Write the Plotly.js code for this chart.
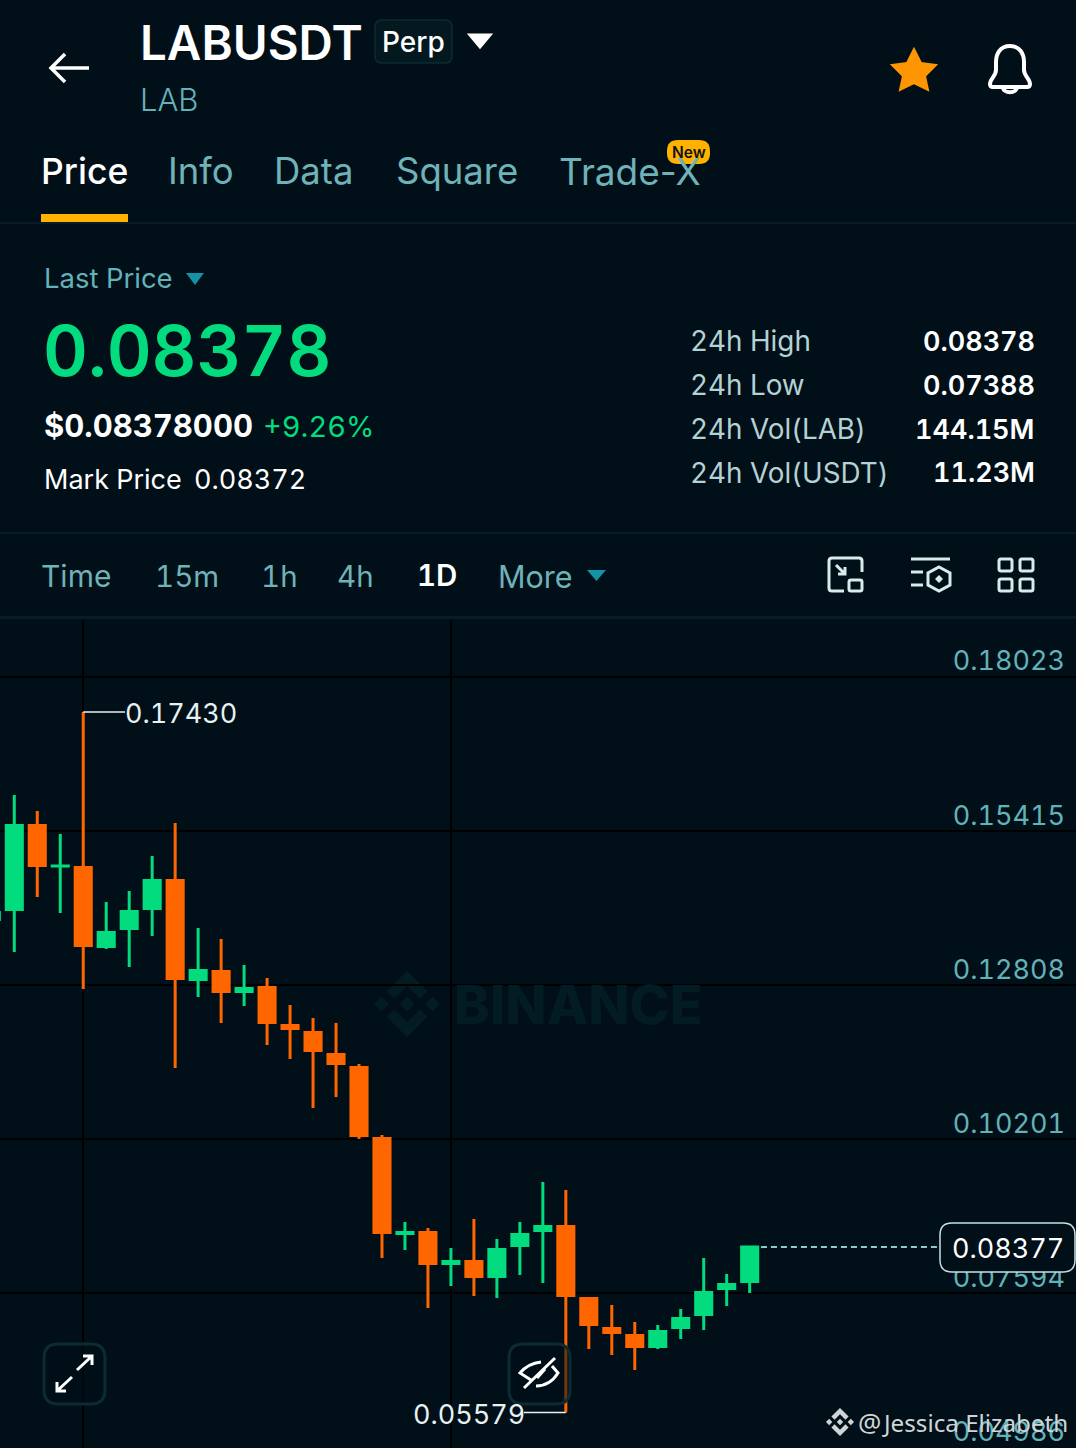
<!DOCTYPE html>
<html>
<head>
<meta charset="utf-8">
<script src="https://cdn.plot.ly/plotly-3.0.1.min.js"></script>
<style>
html,body{margin:0;padding:0;background:#000F18;overflow:hidden}
#chart{width:1076px;height:1448px}
svg text{font-variant-numeric:tabular-nums;font-feature-settings:"tnum" 1}
.ytick text{opacity:1 !important}
</style>
</head>
<body>
<div id="chart"></div>
<script>
// ---- data ----
var candleIndex = [-1,0,1,2,3,4,5,6,7,8,9,10,11,12,13,14,15,16,17,18,19,20,21,22,23,24,25,26,27,28,29,30,31,32];
var opens  = [.13920,.14089,.15511,.14825,.14800,.13463,.13767,.14106,.14580,.12904,.13041,.12701,.12770,.12127,.12008,.11636,.11416,.10215,.08607,.08624,.08099,.08134,.07879,.08404,.08658,.08726,.07508,.07000,.06882,.06695,.07016,.07236,.07676,.07795];
var highs  = [.14064,.16027,.15756,.15367,.17430,.14216,.14402,.14994,.15553,.13776,.13590,.13150,.12930,.12473,.12253,.12169,.11475,.10274,.08802,.08700,.08362,.08853,.08514,.08802,.09479,.09343,.07533,.07397,.07110,.07059,.07330,.08193,.07922,.08377];
var lows   = [.13895,.13370,.14301,.14030,.12744,.13421,.13116,.13641,.11407,.12609,.12169,.12456,.11797,.11560,.10731,.10917,.10206,.08193,.08328,.07347,.07719,.07550,.07516,.07905,.07770,.05579,.06653,.06551,.06298,.06653,.06822,.06974,.07380,.07600];
var closes = [.14039,.15511,.14833,.14826,.13480,.13700,.14056,.14580,.12921,.13058,.12701,.12753,.12177,.12075,.11703,.11483,.10265,.08624,.08624,.08099,.08134,.07879,.08337,.08591,.08726,.07558,.07067,.06932,.06695,.06949,.07169,.07609,.07745,.08377];
var priceTicks = [0.18023,0.15415,0.12808,0.10201,0.07594,0.04986];
var priceTickLabels = ['0.18023','0.15415','0.12808','0.10201','0.07594','0.04986'];
var timeGridIndex = [3,19];
var lastPrice = 0.08377;
var lastPriceLabel = '0.08377';
var peakIndex = 3, peakPrice = 0.17430, peakLabel = '0.17430';
var troughIndex = 24, troughPrice = 0.05579, troughLabel = '0.05579';
var statLabels = ['24h High','24h Low','24h Vol(LAB)','24h Vol(USDT)'];
var statValues = ['0.08378','0.07388','144.15M','11.23M'];
var tabs = ['Price','Info','Data','Square','Trade-X'];
var intervals = ['Time','15m','1h','4h','1D','More'];

// ---- page geometry and colours ----
var W = 1076, H = 1448, TOP = 620, PH = H - TOP;
var BG = '#000F18', GREEN = '#02DC7E', ORANGE = '#FF6600', TEAL = '#62B2B8', TAB = '#6FB2B8', AMBER = '#FFB300', WHITE = '#FFFFFF';
var FONT = 'Inter, "Noto Sans", sans-serif';
function px(x){ return x / W; }
function py(y){ return 1 - (y - TOP) / PH; }

function path(d, opt){
  var i = 0, s = d.replace(/-?\d+(\.\d+)?/g, function(n){
    var v = Number(n); var r = (i % 2 === 0) ? px(v) : py(v); i++; return r.toFixed(6);
  });
  return Object.assign({type:'path', xref:'paper', yref:'paper', path:s, layer:'above',
    line:{width:0, color:'rgba(0,0,0,0)'}, fillcolor:'rgba(0,0,0,0)'}, opt || {});
}
function stroke(d, color, w, extra){ return path(d, Object.assign({line:{color:color, width:w}}, extra||{})); }
function fill(d, color, extra){ return path(d, Object.assign({fillcolor:color}, extra||{})); }
function rrect(x0,y0,x1,y1,r){
  return 'M'+(x0+r)+','+y0+' L'+(x1-r)+','+y0+' Q'+x1+','+y0+' '+x1+','+(y0+r)+' L'+x1+','+(y1-r)+' Q'+x1+','+y1+' '+(x1-r)+','+y1+
    ' L'+(x0+r)+','+y1+' Q'+x0+','+y1+' '+x0+','+(y1-r)+' L'+x0+','+(y0+r)+' Q'+x0+','+y0+' '+(x0+r)+','+y0+' Z';
}
function logo(cx, cy, size, color, layer){
  var polys = [
    [38.73,53.2,63.32,28.62,87.92,53.22,102.22,38.91,63.32,0,24.42,38.9],
    [38.73,73.41,63.32,98,87.92,73.4,102.23,87.69,63.33,126.6,24.42,87.72],
    [0,63.31,14.3,49,28.61,63.31,14.3,77.61],
    [98,63.31,112.3,49,126.61,63.31,112.3,77.61],
    [63.32,48.79,77.83,63.3,63.32,77.83,48.81,63.3]
  ];
  var k = size / 126.61;
  return polys.map(function(p){
    var d = '';
    for (var i = 0; i < p.length; i += 2) {
      d += (i ? ' L' : 'M') + (cx + (p[i]-63.3)*k).toFixed(2) + ',' + (cy + (p[i+1]-63.3)*k).toFixed(2);
    }
    return fill(d + ' Z', color, {layer: layer});
  });
}
function text(t, x, y, size, color, opt){
  opt = opt || {};
  return {
    text:t, xref:'paper', yref:'paper', x:px(x), y:py(y), showarrow:false,
    xanchor:opt.anchor || 'left', yanchor:'middle', borderpad:0, borderwidth:0,
    font:{family:opt.family || FONT, size:size, color:color, weight:opt.weight || 400}
  };
}

var annotations = [
  text('LABUSDT', 140, 42, 47.5, WHITE, {weight:600}),
  text('Perp', 382, 42, 28, WHITE, {weight:500}),
  text('LAB', 140, 100, 31, TEAL, {weight:300}),
  text(tabs[0], 41, 171, 35.5, WHITE, {weight:500}),
  text(tabs[1], 168, 171, 36.5, TAB),
  text(tabs[2], 274, 171, 36.5, TAB),
  text(tabs[3], 396, 171, 36.5, TAB),
  text(tabs[4], 555, 171, 37, TAB),
  text('New', 688.5, 152, 15.5, '#111111', {anchor:'center', weight:600}),
  text('Last Price', 44, 278, 27.5, TEAL),
  text('0.08378', 43, 351, 69.5, GREEN, {weight:600}),
  text('$0.08378000', 44, 425, 31, WHITE, {weight:700}),
  text('+9.26%', 263, 426, 29, GREEN),
  text('Mark Price', 44, 480, 27, WHITE),
  text('0.08372', 194, 480, 27, WHITE),
  text(intervals[0], 41, 576, 30, TAB),
  text(intervals[1], 155, 576, 29.5, TAB),
  text(intervals[2], 261, 576, 29.5, TAB),
  text(intervals[3], 337, 576, 29.5, TAB),
  text(intervals[4], 417, 575, 29.5, WHITE, {weight:600}),
  text(intervals[5], 498, 576, 30.5, TAB),
  text('BINANCE', 454, 1004, 54, '#031C24', {weight:800}),
  text(lastPriceLabel, 1064, 1248, 27, WHITE, {anchor:'right'}),
  text(peakLabel, 125, 713, 27, '#E6F2F2'),
  text(troughLabel, 413, 1414, 27, '#E6F2F2'),
  text('@', 858, 1422, 26, '#CFD5D7', {family:'"Noto Sans", sans-serif'}),
  text('Jessica Elizabeth', 882, 1422, 24.2, '#CFD5D7', {family:'"Noto Sans", sans-serif'})
];
statLabels.forEach(function(t, i){
  annotations.push(text(t, 690, 341 + 44*i, 27.8, '#B4D2D4'));
  annotations.push(text(statValues[i], 1034.5, 341 + 44*i, 27, WHITE, {anchor:'right', weight:600}));
});

var LINE = '#D8ECEC', BTN = '#0C2C33';
var shapes = [].concat(
  logo(407, 1004, 66, '#031C24', 'below'),
  [
    // header separators and tab underline
    fill('M0,222 L1076,222 L1076,224 L0,224 Z', '#071C24'),
    fill('M0,532 L1076,532 L1076,534 L0,534 Z', '#071C24'),
    fill('M0,616 L1076,616 L1076,619 L0,619 Z', '#071C24'),
    fill('M41,214 L128,214 L128,222 L41,222 Z', AMBER),
    // back arrow
    stroke('M51,68 L89,68 M65,54 L51,68 L65,82', WHITE, 3.5),
    // perp badge and drop-down
    path(rrect(375,20,452,63,7), {fillcolor:'#04191F', line:{color:'#0A2C33', width:1.5}}),
    path('M470,35 L490,35 L480,47 Z', {fillcolor:WHITE, line:{color:WHITE, width:3}}),
    // star and bell
    path('M914,49 L921,63 L936,65 L925,76 L928,90 L914,83 L900,90 L903,76 L892,65 L907,63 Z', {fillcolor:'#FF9500', line:{color:'#FF9500', width:2}}),
    stroke('M1010,46 C1000,46 996,54 996,62 L996,70 C996,76 990,79 990,84 C990,86 991,87 993,87 L1027,87 C1029,87 1030,86 1030,84 C1030,79 1024,76 1024,70 L1024,62 C1024,54 1020,46 1010,46 Z M1003,87 C1003,94 1017,94 1017,87', WHITE, 4),
    // new badge
    fill(rrect(667,140,710,164,11), AMBER),
    // drop-down triangles
    fill('M186,273 L204,273 L195,285 Z', '#1493A6'),
    fill('M587,570 L606,570 L596.5,581 Z', '#1493A6'),
    // toolbar icons
    stroke('M844,591 L832,591 Q829,591 829,588 L829,561 Q829,558 832,558 L859,558 Q862,558 862,561 L862,572', LINE, 3),
    stroke(rrect(849,580,862,591,2), LINE, 3),
    stroke('M836,565 L845,574 M845,567 L845,574 L838,574', LINE, 3),
    stroke('M911,559 L950,559 M911,572 L923,572 M911,585 L923,585', LINE, 3),
    stroke('M939,567 L950,573 L950,585 L939,591 L928,585 L928,573 Z', LINE, 3),
    fill('M939,575 L943,579 L939,583 L935,579 Z', LINE),
    stroke(rrect(999,559,1012,571,2), LINE, 3),
    stroke(rrect(1020,559,1033,571,2), LINE, 3),
    stroke(rrect(999,579,1012,591,2), LINE, 3),
    stroke(rrect(1020,579,1033,591,2), LINE, 3),
    // expand button
    path(rrect(44,1344,105,1404,14), {fillcolor:'rgba(0,15,24,0.55)', line:{color:BTN, width:3}}),
    stroke('M77,1370 L92,1356 M83,1356 L92,1356 L92,1365 M72,1377 L57,1391 M57,1382 L57,1391 L66,1391', WHITE, 3),
    // hide-indicators button
    path(rrect(509,1344,570,1404,14), {fillcolor:'rgba(0,15,24,0.55)', line:{color:BTN, width:3}}),
    stroke('M531,1380 L520,1373 C525,1367 532,1363 541,1362 M552,1366 L558,1373 C553,1381 546,1386 536,1386 M524,1388 L555,1358 M537,1378 L545,1369', WHITE, 3),
    // peak and trough leaders
    {type:'line', xref:'x', yref:'y', x0:peakIndex, x1:4.82, y0:peakPrice, y1:peakPrice, layer:'above', line:{color:'#E6F2F2', width:1.5}},
    {type:'line', xref:'x', yref:'y', x0:troughIndex, x1:22.18, y0:troughPrice, y1:troughPrice, layer:'above', line:{color:'#E6F2F2', width:1.5}},
    // last price line and label
    {type:'line', xref:'x', yref:'y', x0:32.49, x1:40.28, y0:lastPrice, y1:lastPrice, layer:'above', line:{color:'#8ECBCB', width:2, dash:'6px,4px'}},
    path(rrect(940,1223,1075,1272,12), {fillcolor:BG, line:{color:'#C4E4E4', width:1.5}})
  ],
  logo(840, 1422, 28, '#CFD5D7', 'above')
);

var trace = {
  type:'candlestick', x:candleIndex, open:opens, high:highs, low:lows, close:closes,
  whiskerwidth:0, hoverinfo:'skip',
  increasing:{line:{color:GREEN, width:3}, fillcolor:GREEN},
  decreasing:{line:{color:ORANGE, width:3}, fillcolor:ORANGE},
  showlegend:false
};

var layout = {
  width:W, height:H, autosize:false, paper_bgcolor:BG, plot_bgcolor:BG,
  margin:{l:0, r:0, t:TOP, b:0, pad:0}, showlegend:false, boxgap:0,
  font:{family:FONT},
  xaxis:{range:[-0.622,46.2], tickmode:'array', tickvals:timeGridIndex, showticklabels:false, ticks:'',
    showgrid:true, gridcolor:'#000000', gridwidth:2, zeroline:false, showline:false, rangeslider:{visible:false}, fixedrange:true},
  yaxis:{range:[0.04978,0.18988], side:'right', tickmode:'array', tickvals:priceTicks, ticktext:priceTickLabels,
    ticklabelposition:'inside', ticklabelstandoff:8, ticklabelshift:-16, ticks:'', ticklen:0,
    tickfont:{family:FONT, size:27, color:TEAL}, showgrid:true, gridcolor:'#000000', gridwidth:2,
    zeroline:false, showline:false, fixedrange:true},
  shapes:shapes, annotations:annotations
};
Plotly.newPlot('chart', [trace], layout, {displayModeBar:false, staticPlot:true}).then(function(){
  document.querySelectorAll('.annotation-text').forEach(function(t){
    if (t.textContent === 'Trade-X') { t.style.fontVariantNumeric = 'normal'; t.style.fontFeatureSettings = 'normal'; }
  });
});
</script>
</body>
</html>
